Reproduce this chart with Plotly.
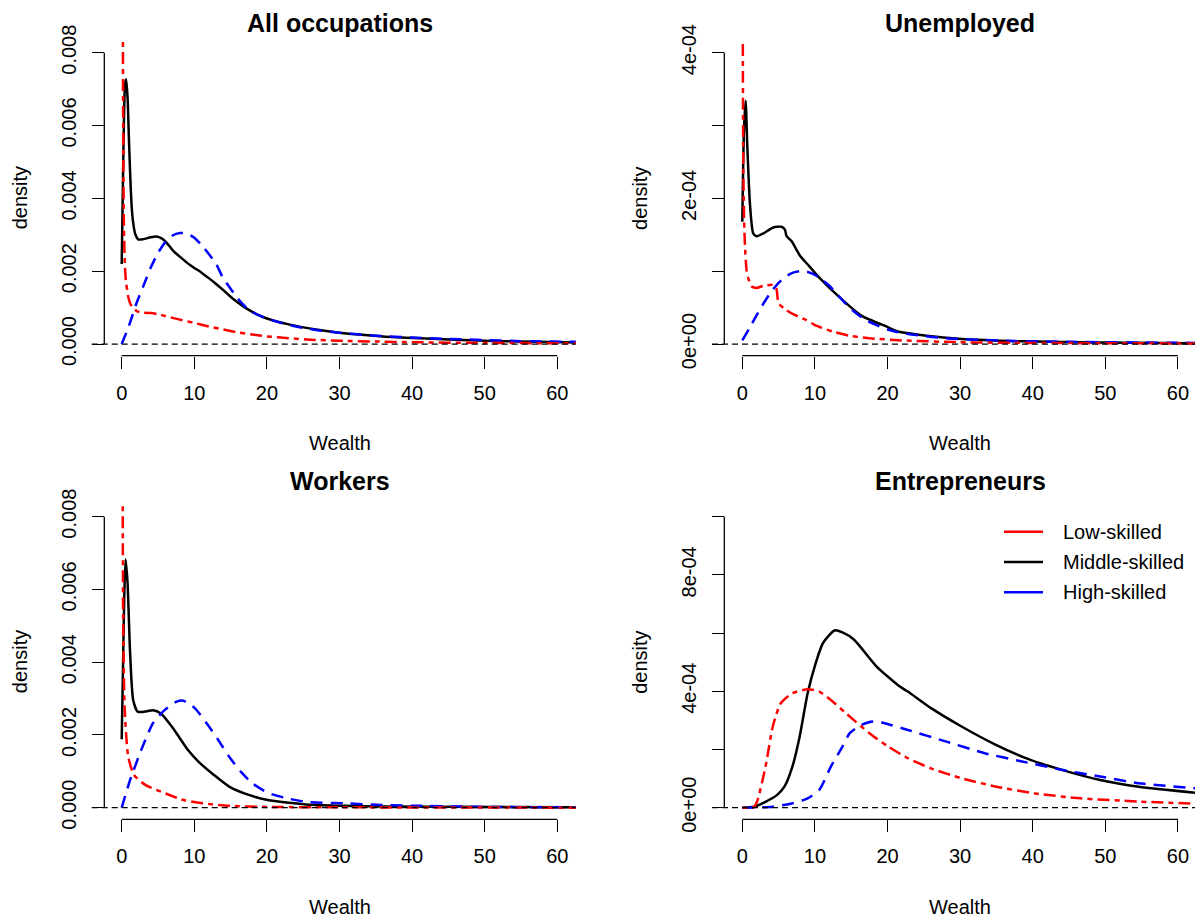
import plotly.graph_objects as go

# ---- data ----
# All occupations
all_low_w = [0.12, 0.2, 0.3, 0.45, 0.6, 0.9, 1.2, 1.6, 2.1, 3, 4, 5, 6, 8, 10, 12, 14, 16, 18, 20, 23, 26, 30, 35, 40, 50, 63]
all_low_d = [0.012, 0.0062, 0.0033, 0.0021, 0.0017, 0.0013, 0.0011, 0.00099, 0.0009, 0.00086, 0.00085, 0.00082, 0.00077,
             0.00067, 0.00058, 0.00048, 0.0004, 0.00032, 0.00026, 0.00021, 0.00016, 0.00012, 0.00009, 0.00007, 0.00005,
             0.00003, 0.00002]
all_mid_w = [0, 0.1, 0.25, 0.45, 0.6, 0.8, 1.0, 1.2, 1.4, 1.6, 1.9, 2.3, 3, 4, 4.8, 5.5, 6.2, 7, 8, 9.4, 10, 11, 12, 13,
             14, 15, 16, 17, 18.5, 20, 23, 27, 30, 36, 41, 46, 52, 57, 63]
all_mid_d = [0.0022, 0.0035, 0.0055, 0.0071, 0.00727, 0.0068, 0.0056, 0.0045, 0.0037, 0.0033, 0.003, 0.00287, 0.00288,
             0.00293, 0.00295, 0.0029, 0.00278, 0.00258, 0.0024, 0.00217, 0.00209, 0.00196, 0.00181, 0.00165, 0.00148,
             0.0013, 0.00114, 0.001, 0.00083, 0.0007, 0.00054, 0.00039, 0.00031, 0.00021, 0.00016, 0.00012, 0.00008,
             0.00006, 0.00004]
all_high_w = [0, 1, 2, 3, 4, 5, 6, 7, 8, 9, 10, 11, 12, 13, 14, 15, 16, 17, 18, 19, 20, 22, 24, 27, 30, 35, 40, 45, 50,
              55, 63]
all_high_d = [0, 0.0005, 0.0011, 0.0016, 0.0021, 0.0025, 0.0028, 0.00298, 0.00305, 0.00303, 0.00292, 0.00272, 0.00247,
              0.0022, 0.0018, 0.00152, 0.00125, 0.00103, 0.00088, 0.00078, 0.0007, 0.00058, 0.00048, 0.00038, 0.00031,
              0.00023, 0.00018, 0.00014, 0.00011, 0.00008, 0.00006]

# Unemployed
une_low_w = [0.05, 0.14, 0.25, 0.37, 0.6, 0.83, 1.3, 2, 2.9, 4.3, 4.7, 5.0, 6, 7, 8.8, 10, 12.5, 15, 17.5, 22, 30, 40, 63]
une_low_d = [5e-4, 2.4e-4, 1.7e-4, 1.34e-4, 1.0e-4, 0.9e-4, 0.79e-4, 0.77e-4, 0.8e-4, 0.81e-4, 0.76e-4, 0.56e-4,
             0.47e-4, 0.41e-4, 0.33e-4, 0.26e-4, 0.17e-4, 0.11e-4, 0.08e-4, 0.05e-4, 0.025e-4, 0.015e-4, 0.008e-4]
une_mid_w = [0, 0.23, 0.46, 0.69, 1.05, 1.5, 1.97, 2.9, 4.27, 5.4, 5.87, 6.1, 6.8, 7.9, 9.3, 10.7, 13.3, 16.4, 20.1,
             21.2, 25.4, 30.2, 38.7, 49, 63]
une_mid_d = [1.68e-4, 2.94e-4, 3.34e-4, 2.71e-4, 1.93e-4, 1.52e-4, 1.48e-4, 1.52e-4, 1.6e-4, 1.61e-4, 1.57e-4, 1.48e-4,
             1.41e-4, 1.22e-4, 1.06e-4, 0.9e-4, 0.65e-4, 0.39e-4, 0.23e-4, 0.18e-4, 0.115e-4, 0.07e-4, 0.037e-4,
             0.02e-4, 0.01e-4]
une_high_w = [0, 1, 2, 3, 4, 5, 6, 7, 8, 9, 10, 11, 12, 13, 14, 15, 16, 17, 18, 20, 22, 25, 28, 32, 38, 45, 55, 63]
une_high_d = [0.05e-4, 0.22e-4, 0.4e-4, 0.57e-4, 0.72e-4, 0.84e-4, 0.93e-4, 0.98e-4, 1.0e-4, 0.99e-4, 0.95e-4, 0.88e-4,
              0.8e-4, 0.69e-4, 0.58e-4, 0.48e-4, 0.4e-4, 0.33e-4, 0.28e-4, 0.2e-4, 0.15e-4, 0.11e-4, 0.08e-4, 0.06e-4,
              0.04e-4, 0.03e-4, 0.02e-4, 0.015e-4]

# Workers
wrk_low_w = [0.1, 0.21, 0.42, 0.9, 1.7, 3.3, 5.4, 8.5, 11.2, 14.8, 20, 30, 63]
wrk_low_d = [0.012, 0.00498, 0.00268, 0.0014, 0.0009, 0.00062, 0.00044, 0.00021, 0.00012, 0.00005, 0.00002, 0.00001, 0]
wrk_mid_w = [0, 0.15, 0.35, 0.53, 0.8, 1.16, 1.58, 2.2, 3.2, 4.3, 5.4, 6.9, 8, 9.1, 10.6, 12.7, 14.8, 17.5, 20.1, 22.7,
             25.4, 30.6, 36, 63]
wrk_mid_d = [0.00188, 0.0035, 0.0058, 0.00683, 0.0062, 0.00424, 0.00296, 0.00264, 0.00264, 0.00268, 0.00259, 0.00223,
             0.00191, 0.00159, 0.00126, 0.0009, 0.00058, 0.00035, 0.00021, 0.00014, 0.00009, 0.00005, 0.00003, 0.00001]
wrk_high_w = [0, 1.16, 2.7, 4.3, 5.9, 7.5, 8.5, 10.1, 11.7, 13.3, 14.8, 16.4, 18, 20.1, 22.7, 25.4, 30.6, 35.9, 41.2,
              50, 63]
wrk_high_d = [0, 0.00076, 0.00159, 0.00232, 0.00268, 0.00291, 0.00294, 0.00273, 0.00232, 0.00186, 0.0014, 0.00099,
              0.00067, 0.00041, 0.00026, 0.00016, 0.00012, 0.00007, 0.00005, 0.00002, 0.00001]

# Entrepreneurs
ent_low_w = [0, 1.6, 2.1, 3.2, 4.2, 5.3, 6.9, 9, 10.6, 12.2, 14.3, 17.5, 20.1, 22.8, 26, 30.2, 35, 40.3, 46.6, 54.6, 63]
ent_low_d = [0, 0.02e-4, 0.26e-4, 1.41e-4, 2.79e-4, 3.59e-4, 3.93e-4, 4.07e-4, 3.99e-4, 3.7e-4, 3.24e-4, 2.56e-4,
             2.1e-4, 1.7e-4, 1.35e-4, 1.01e-4, 0.72e-4, 0.49e-4, 0.32e-4, 0.21e-4, 0.13e-4]
ent_mid_w = [0, 1.6, 3.2, 4.8, 5.8, 6.9, 7.9, 9.0, 10.1, 11.1, 12.7, 13.8, 15.4, 18.5, 21.7, 22.8, 26, 30.2, 35, 39.7,
             44, 49.3, 54.6, 63]
ent_mid_d = [0, 0.03e-4, 0.2e-4, 0.44e-4, 0.72e-4, 1.41e-4, 2.44e-4, 3.93e-4, 4.96e-4, 5.65e-4, 6.09e-4, 6.02e-4,
             5.77e-4, 4.85e-4, 4.16e-4, 3.99e-4, 3.42e-4, 2.79e-4, 2.15e-4, 1.64e-4, 1.3e-4, 0.95e-4, 0.72e-4, 0.5e-4]
ent_high_w = [0, 4.2, 6.9, 9, 10.6, 12.2, 13.8, 14.8, 16.4, 18, 19.6, 22.8, 28.1, 33.4, 38.7, 44, 49.3, 54.6, 63]
ent_high_d = [0, 0.03e-4, 0.15e-4, 0.32e-4, 0.61e-4, 1.41e-4, 2.1e-4, 2.56e-4, 2.84e-4, 2.96e-4, 2.9e-4, 2.67e-4,
              2.27e-4, 1.87e-4, 1.58e-4, 1.3e-4, 1.07e-4, 0.84e-4, 0.65e-4]

panel_titles = ["All occupations", "Unemployed", "Workers", "Entrepreneurs"]
series_names = ["Low-skilled", "Middle-skilled", "High-skilled"]
x_ticks = [0, 10, 20, 30, 40, 50, 60]
y_ticks = [[0, 0.002, 0.004, 0.006, 0.008],
           [0, 1e-4, 2e-4, 3e-4, 4e-4],
           [0, 0.002, 0.004, 0.006, 0.008],
           [0, 2e-4, 4e-4, 6e-4, 8e-4, 10e-4]]
y_ticktext = [["0.000", "0.002", "0.004", "0.006", "0.008"],
              ["0e+00", "", "2e-04", "", "4e-04"],
              ["0.000", "0.002", "0.004", "0.006", "0.008"],
              ["0e+00", "", "4e-04", "", "8e-04", ""]]
y_max = [0.008, 4e-4, 0.008, 1e-3]

panels = [
    (all_low_w, all_low_d, all_mid_w, all_mid_d, all_high_w, all_high_d),
    (une_low_w, une_low_d, une_mid_w, une_mid_d, une_high_w, une_high_d),
    (wrk_low_w, wrk_low_d, wrk_mid_w, wrk_mid_d, wrk_high_w, wrk_high_d),
    (ent_low_w, ent_low_d, ent_mid_w, ent_mid_d, ent_high_w, ent_high_d),
]

# ---- layout helpers ----
# the page body has an 8px margin, so the figure is 8px smaller and every
# position below (measured on the 1203x921 reference) is shifted by it
OFF = 8
W, H = 1203 - OFF, 921 - OFF
FONT = "Liberation Sans, Arial, sans-serif"


def px(x):
    return (x - OFF) / W


def py(y):
    return 1 - (y - OFF) / H


col_left = [(91.7, 575.7, 104.3, 121.7), (712.0, 1196.0, 724.3, 742.3)]  # domain l, r, y-axis x, x=0 px
row_top = [(41.0, 355.7), (505.0, 819.3)]  # domain top, bottom px
title_y = [23.0, 481.0]
x_scale = 7.26  # px per wealth unit

colors = ["red", "black", "blue"]
dashes = ["5px,5px,12px,5px", "solid", "12px,8px"]
tfont = dict(size=20, color="black", family=FONT)

fig = go.Figure()
annotations = []
shapes = []
layout = {}

for i in range(4):
    r, c = divmod(i, 2)
    dl, dr, yax_px, x0_px = col_left[c]
    dt, db = row_top[r]
    ax = "" if i == 0 else str(i + 1)
    xa, ya = "x" + ax, "y" + ax

    low_w, low_d, mid_w, mid_d, high_w, high_d = panels[i]
    curves = [(mid_w, mid_d, 1), (high_w, high_d, 2), (low_w, low_d, 0)]
    for w, d, k in curves:
        fig.add_trace(go.Scatter(x=w, y=d, mode="lines", xaxis=xa, yaxis=ya, name=series_names[k],
                                 showlegend=False,
                                 line=dict(color=colors[k], width=2.5, dash=dashes[k], shape="spline",
                                           smoothing=0.6),
                                 hoverinfo="skip"))

    ym = y_max[i]
    layout["xaxis" + ax] = dict(
        domain=[px(dl), px(dr)], anchor=ya, automargin=False,
        range=[(dl - x0_px) / x_scale, (dr - x0_px) / x_scale],
        showgrid=False, zeroline=False, showline=False,
        tickvals=x_ticks, ticks="outside", ticklen=12, tickwidth=1.3, tickcolor="black",
        ticklabelstandoff=7, tickfont=tfont,
    )
    layout["yaxis" + ax] = dict(
        domain=[py(db), py(dt)], anchor="free", position=px(yax_px), automargin=False,
        range=[-0.04 * ym, 1.04 * ym],
        showgrid=False, zeroline=False, showline=False,
        tickvals=y_ticks[i], ticktext=y_ticktext[i], ticks="outside", ticklen=12, tickwidth=1.3,
        tickcolor="black", tickangle=-90, ticklabelstandoff=8, tickfont=tfont,
    )

    # R-style axis lines spanning only the tick range
    shapes.append(dict(type="line", xref=xa, yref="paper", x0=0, x1=60, y0=py(db), y1=py(db),
                       line=dict(color="black", width=1.3)))
    shapes.append(dict(type="line", xref="paper", yref=ya, x0=px(yax_px), x1=px(yax_px), y0=0, y1=ym,
                       line=dict(color="black", width=1.3)))
    # dashed zero line
    shapes.append(dict(type="line", xref=xa + " domain", yref=ya, x0=0, x1=1, y0=0, y1=0,
                       line=dict(color="black", width=1.3, dash="6px,4px")))

    cx = (yax_px + dr) / 2
    annotations.append(dict(text="<b>" + panel_titles[i] + "</b>", xref="paper", yref="paper",
                            x=px(cx), y=py(title_y[r]), showarrow=False,
                            font=dict(size=25, color="black", family=FONT), xanchor="center", yanchor="middle"))
    annotations.append(dict(text="Wealth", xref="paper", yref="paper", x=px(cx), y=py(443 + r * 463.5),
                            showarrow=False, font=tfont, xanchor="center", yanchor="middle"))
    annotations.append(dict(text="density", xref="paper", yref="paper", x=px(20 + c * 620.6),
                            y=py((dt + db) / 2), showarrow=False, textangle=-90, font=tfont,
                            xanchor="center", yanchor="middle"))

# legend in the Entrepreneurs panel, drawn R-style (solid sample lines, no box)
for k, name in enumerate(series_names):
    ly = 531.7 + k * 30.3
    shapes.append(dict(type="line", xref="paper", yref="paper", x0=px(1004), x1=px(1043), y0=py(ly), y1=py(ly),
                       line=dict(color=colors[k], width=2.5)))
    annotations.append(dict(text=name, xref="paper", yref="paper", x=px(1061), y=py(ly), showarrow=False,
                            font=tfont, xanchor="left", yanchor="middle"))

fig.update_layout(
    **layout,
    width=W, height=H,
    margin=dict(l=0, r=0, t=0, b=0),
    paper_bgcolor="white", plot_bgcolor="white",
    font=dict(family=FONT, size=20, color="black"),
    annotations=annotations,
    shapes=shapes,
    showlegend=False,
)

fig.write_html("out.html")
